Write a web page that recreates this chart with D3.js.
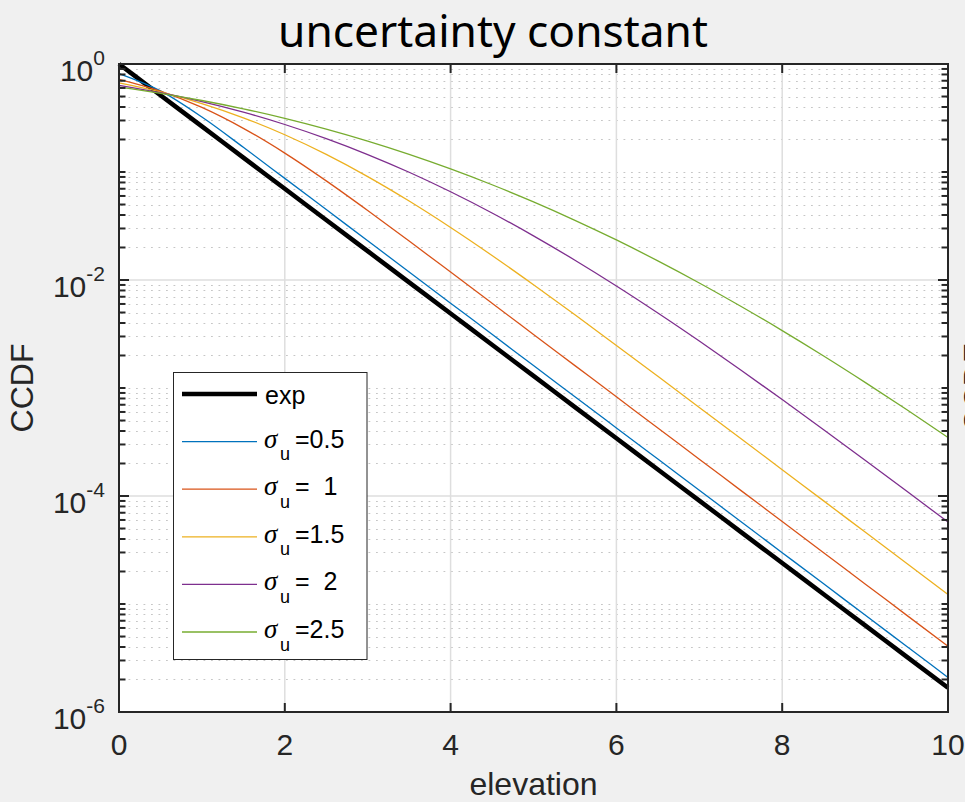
<!DOCTYPE html>
<html><head><meta charset="utf-8">
<script src="https://cdn.jsdelivr.net/npm/d3@7"></script>
<style>html,body{margin:0;padding:0;background:#f0f0f0;overflow:hidden} svg{display:block}</style>
</head><body>
<script>
// ---- data ----
const xs = [0,0.5,1,1.5,2,2.5,3,3.5,4,4.5,5,5.5,6,6.5,7,7.5,8,8.5,9,9.5,10];
const expVals = [1,0.5143,0.2645,0.1360,0.06995,0.03597,0.01850,0.009515,0.004893,0.002517,0.001294,6.656e-4,3.423e-4,1.760e-4,9.054e-5,4.656e-5,2.395e-5,1.232e-5,6.334e-6,3.258e-6,1.675e-6];
const sigma05 = [0.8156,0.5637,0.3227,0.1693,0.08726,0.04487,0.02308,0.01187,0.006104,0.003140,0.001614,8.303e-4,4.270e-4,2.196e-4,1.1295e-4,5.808e-5,2.988e-5,1.537e-5,7.902e-6,4.064e-6,2.090e-6];
const sigma10 = [0.7223,0.5617,0.3961,0.2537,0.1496,0.08278,0.04402,0.02293,0.011836,0.006094,0.003134,1.6118e-3,8.289e-4,4.262e-4,2.1925e-4,1.1275e-4,5.800e-5,2.983e-5,1.5338e-5,7.890e-6,4.056e-6];
const sigma15 = [0.6684,0.5511,0.4306,0.3178,0.2212,0.1455,0.09069,0.05384,0.03064,0.016865,0.009040,0.004762,0.0024795,0.0012824,6.613e-4,3.4044e-4,1.7513e-4,9.0116e-5,4.6336e-5,2.3834e-5,1.2253e-5];
const sigma20 = [0.6345,0.5424,0.4485,0.3579,0.2753,0.2037,0.1451,0.09942,0.06559,0.04173,0.02563,0.015247,0.008803,0.0049496,0.0027224,0.0014688,7.811e-4,4.107e-4,2.1407e-4,1.1102e-4,5.734e-5];
const sigma25 = [0.6112,0.5357,0.4593,0.3843,0.3138,0.2496,0.1933,0.1457,0.1068,0.07619,0.05290,0.03572,0.02349,0.015031,0.0093894,0.0057149,0.0034004,0.0019795,0.0011284,6.318e-4,3.479e-4];
const sigmaLabels = ["0.5","  1","1.5","  2","2.5"];
const colors = ["#000000","#0072BD","#D95319","#EDB120","#7E2F8E","#77AC30"];
const xTickLabels = [0,2,4,6,8,10];
const yTickExps = [0,-2,-4,-6];
const titleText = "uncertainty constant";
const xLabel = "elevation";
const yLabel = "CCDF";

const series = [expVals, sigma05, sigma10, sigma15, sigma20, sigma25];

// ---- layout ----
const W = 965, H = 802;
const L = 119, R = 948, T = 64, B = 712;
const axisColor = "#262626";
const sans = "'Liberation Sans', Arial, sans-serif";

const svg = d3.select("body").append("svg").attr("width", W).attr("height", H);
svg.append("rect").attr("width", W).attr("height", H).attr("fill", "#f0f0f0");

const x = d3.scaleLinear().domain([0, 10]).range([L, R]);
const y = d3.scaleLog().domain([1e-6, 1]).range([B, T]);

svg.append("rect").attr("x", L).attr("y", T).attr("width", R - L).attr("height", B - T).attr("fill", "#ffffff");

// grid
const allY = y.ticks();
const majorY = yTickExps.map(e => Math.pow(10, e));
const isMajor = v => majorY.some(m => Math.abs(Math.log10(v) - Math.log10(m)) < 1e-6);
const minorY = allY.filter(v => !isMajor(v));
const g = svg.append("g");
g.selectAll(".mg").data(minorY).enter().append("line")
  .attr("x1", L + 2).attr("x2", R).attr("y1", d => Math.round(y(d)) + 0.5).attr("y2", d => Math.round(y(d)) + 0.5)
  .attr("stroke", "#c6c6c6").attr("stroke-width", 1.2).attr("stroke-dasharray", "1.8,5.7");
g.selectAll(".Mgy").data(majorY.filter(v => v < 1 && v > 1e-6)).enter().append("line")
  .attr("x1", L).attr("x2", R).attr("y1", d => y(d)).attr("y2", d => y(d))
  .attr("stroke", "#dedede").attr("stroke-width", 1.5);
g.selectAll(".Mgx").data(xTickLabels.filter(v => v > 0 && v < 10)).enter().append("line")
  .attr("x1", d => x(d)).attr("x2", d => x(d)).attr("y1", T).attr("y2", B)
  .attr("stroke", "#dedede").attr("stroke-width", 1.5);

// lines
const line = d3.line().x((d, i) => x(xs[i])).y(d => y(d)).curve(d3.curveMonotoneX);
svg.append("g").selectAll("path").data(series).enter().append("path")
  .attr("d", d => line(d)).attr("fill", "none")
  .attr("stroke", (d, i) => colors[i])
  .attr("stroke-width", (d, i) => i === 0 ? 4.5 : 1.3)
  .attr("stroke-linejoin", "round");

// axes box and ticks
const ax = svg.append("g").attr("stroke", axisColor).attr("stroke-width", 2);
ax.append("rect").attr("x", L).attr("y", T).attr("width", R - L).attr("height", B - T).attr("fill", "none");
allY.forEach(v => {
  const len = isMajor(v) ? 10 : 6.5;
  const yy = y(v);
  ax.append("line").attr("x1", L).attr("x2", L + len).attr("y1", yy).attr("y2", yy);
  ax.append("line").attr("x1", R).attr("x2", R - len).attr("y1", yy).attr("y2", yy);
});
xTickLabels.forEach(v => {
  const xx = x(v);
  ax.append("line").attr("x1", xx).attr("x2", xx).attr("y1", B).attr("y2", B - 9);
  ax.append("line").attr("x1", xx).attr("x2", xx).attr("y1", T).attr("y2", T + 9);
});

// x tick labels
svg.append("g").selectAll("text").data(xTickLabels).enter().append("text")
  .attr("x", d => x(d)).attr("y", B + 43).attr("text-anchor", "middle")
  .attr("font-family", sans).attr("font-size", 30).attr("fill", axisColor)
  .text(d => d);

// y tick labels
const yl = svg.append("g").selectAll("text").data(yTickExps).enter().append("text")
  .attr("x", 105).attr("y", d => y(Math.pow(10, d)) + 17).attr("text-anchor", "end")
  .attr("font-family", sans).attr("fill", axisColor);
yl.append("tspan").attr("font-size", 30).text("10");
yl.append("tspan").attr("font-size", 21).attr("dy", -16).text(d => d === 0 ? "0" : "-" + Math.abs(d));

// axis labels
svg.append("text").attr("x", (L + R) / 2).attr("y", 795).attr("text-anchor", "middle")
  .attr("font-family", sans).attr("font-size", 32).attr("fill", axisColor).text(xLabel);
svg.append("text").attr("transform", "translate(33,388) rotate(-90)").attr("text-anchor", "middle")
  .attr("font-family", sans).attr("font-size", 32).attr("fill", axisColor).text(yLabel);
// neighbouring subplot's label, cut off at the right edge as in the reference
svg.append("text").attr("transform", "translate(986,388) rotate(-90)").attr("text-anchor", "middle")
  .attr("font-family", sans).attr("font-size", 32).attr("fill", axisColor).text(yLabel);

// title
const title = svg.append("text").attr("x", 493).attr("y", 47).attr("text-anchor", "middle")
  .attr("font-family", "'Noto Sans', 'Open Sans', sans-serif").attr("font-size", 40).attr("fill", "#000")
  .text(titleText);
const tw = title.node().getComputedTextLength();
title.attr("font-size", 40 * 430 / tw);

// legend
const lg = svg.append("g");
const lgX = 173.5, lgY = 372.5, lgW = 193.5, lgH = 287;
lg.append("rect").attr("x", lgX).attr("y", lgY).attr("width", lgW).attr("height", lgH)
  .attr("fill", "#fff").attr("stroke", axisColor).attr("stroke-width", 1);
const rowY = i => 394 + i * 47.6;
series.forEach((s, i) => {
  const ry = rowY(i);
  lg.append("line").attr("x1", 182).attr("x2", 257).attr("y1", ry).attr("y2", ry)
    .attr("stroke", colors[i]).attr("stroke-width", i === 0 ? 4.5 : 1.3);
  if (i === 0) {
    lg.append("text").attr("x", 265).attr("y", ry + 10).attr("font-family", sans)
      .attr("font-size", 25).attr("fill", "#000").text("exp");
  } else {
    const t = lg.append("text").attr("y", ry + 6).attr("font-family", sans).attr("fill", "#000")
      .attr("xml:space", "preserve").style("white-space", "pre");
    t.append("tspan").attr("x", 264).attr("font-family", "'Liberation Serif', 'DejaVu Serif', serif")
      .attr("font-style", "italic").attr("font-size", 27).text("σ");
    t.append("tspan").attr("x", 280).attr("dy", 12.5).attr("font-size", 18).text("u");
    t.append("tspan").attr("x", 295).attr("dy", -12.5).attr("font-size", 25).text("=" + sigmaLabels[i - 1]);
  }
});
</script>
</body></html>
